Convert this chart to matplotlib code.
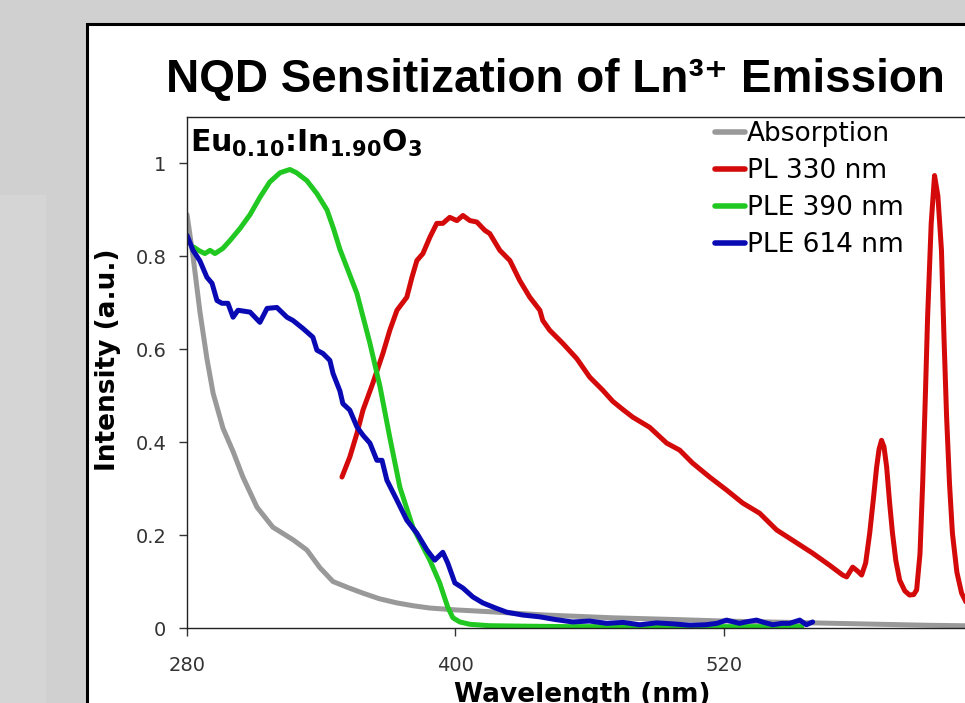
import matplotlib
matplotlib.use('Agg')
import matplotlib.pyplot as plt
from matplotlib.patches import Rectangle

# absorption spectrum (gray)
abs_nm = [280, 282.7, 285.8, 288.9, 291.7, 296.1, 300.6, 305, 311.3, 318.4,
          327.4, 333.6, 339.4, 345.3, 352, 358.7, 366, 373.9, 381, 388.6,
          400, 415.4, 440, 470, 500, 520, 550, 580, 610, 640]
abs_int = [0.89, 0.80, 0.68, 0.58, 0.505, 0.43, 0.38, 0.325, 0.26, 0.217,
           0.19, 0.168, 0.13, 0.10, 0.087, 0.075, 0.063, 0.054, 0.048, 0.043,
           0.039, 0.035, 0.028, 0.022, 0.018, 0.015, 0.012, 0.009, 0.006, 0.004]

# PL, excitation at 330 nm (red)
pl_nm = [349.3, 352.8, 356, 358.7, 363.1, 367.6, 370.7, 373.9, 378.3, 380.6,
         382.8, 385.5, 388.6, 391.7, 394.4, 397.5, 400.7, 403.4, 406.5, 409.6,
         413.2, 415.4, 419.9, 424.4, 428.8, 433.3, 437.8, 439.1, 442.2, 448,
         454.3, 460.1, 465.9, 470.4, 475, 479.3, 486.9, 494.5, 500.3, 506.1,
         513.7, 521.3, 528.5, 536.1, 543.7, 550.8, 559.8, 567.4, 573.2, 575,
         577.7, 580, 581.7, 583.5, 585.3, 587, 588.4, 589.5, 590.6, 591.7,
         592.9, 594.2, 595.5, 597, 598.7, 601, 603.1, 605, 606.3, 607.8,
         609, 610.2, 611.2, 612.8, 614.3, 615.8, 617.4, 618.5, 619.7, 621,
         622.3, 624.3, 626.4, 629, 632, 640]
pl_int = [0.325, 0.368, 0.419, 0.469, 0.527, 0.591, 0.641, 0.684, 0.712, 0.755,
          0.791, 0.806, 0.841, 0.871, 0.871, 0.884, 0.877, 0.888, 0.877, 0.874,
          0.856, 0.849, 0.813, 0.791, 0.748, 0.712, 0.684, 0.662, 0.641, 0.613,
          0.58, 0.54, 0.512, 0.488, 0.47, 0.454, 0.432, 0.398, 0.383, 0.355,
          0.325, 0.297, 0.269, 0.247, 0.211, 0.189, 0.161, 0.135, 0.114, 0.11,
          0.131, 0.122, 0.114, 0.14, 0.204, 0.28, 0.346, 0.385, 0.404, 0.39,
          0.346, 0.27, 0.204, 0.145, 0.103, 0.08, 0.071, 0.072, 0.082, 0.16,
          0.312, 0.50, 0.669, 0.87, 0.974, 0.93, 0.813, 0.63, 0.454, 0.31,
          0.204, 0.12, 0.075, 0.05, 0.04, 0.03]

# PLE monitored at 390 nm (green)
ple390_nm = [283, 285.5, 288, 290.3, 292.5, 296, 299.2, 303.7, 308.2, 312.6,
             317, 321.6, 326, 329, 333.6, 338.1, 342.6, 345.5, 348.4, 352,
             356, 361.8, 366.3, 370.7, 375.2, 381, 388.6, 393, 396.6, 398.9,
             402, 406.5, 415, 430, 450, 470, 490, 510, 530, 545, 555]
ple390_int = [0.82, 0.812, 0.806, 0.813, 0.806, 0.817, 0.834, 0.86, 0.89, 0.927,
              0.96, 0.98, 0.987, 0.98, 0.963, 0.935, 0.90, 0.86, 0.815, 0.77,
              0.72, 0.613, 0.52, 0.41, 0.303, 0.217, 0.146, 0.097, 0.045, 0.022,
              0.013, 0.008, 0.005, 0.004, 0.003, 0.003, 0.003, 0.003, 0.003, 0.003, 0.003]

# PLE monitored at 614 nm (blue)
ple614_nm = [280, 282.7, 285.8, 288.9, 291.2, 293.4, 295.6, 298.3, 300.6, 302.8,
             305.5, 308.2, 312.6, 315.8, 320.2, 324.7, 327.4, 331.8, 336.3, 338.1,
             340.8, 343.9, 345.3, 348.4, 349.7, 352.8, 356, 358.7, 361.8, 364.9,
             367.2, 369.4, 373.9, 378.3, 382.8, 387.3, 390.8, 394.4, 396.6, 399.8,
             403.4, 407.8, 412.3, 418, 423, 430, 437.8, 445, 452.5, 460,
             467.7, 475, 482.5, 490, 497, 505, 512, 517, 521.3, 527,
             531, 534.7, 538, 542, 546, 549.5, 554, 557, 559.8]
ple614_int = [0.845, 0.813, 0.79, 0.755, 0.742, 0.705, 0.699, 0.699, 0.669, 0.684,
              0.682, 0.68, 0.658, 0.688, 0.69, 0.669, 0.662, 0.645, 0.626, 0.598,
              0.591, 0.576, 0.548, 0.51, 0.483, 0.469, 0.433, 0.415, 0.398, 0.361,
              0.361, 0.318, 0.275, 0.232, 0.204, 0.168, 0.146, 0.163, 0.14, 0.097,
              0.086, 0.067, 0.054, 0.043, 0.034, 0.028, 0.024, 0.018, 0.013, 0.015,
              0.01, 0.012, 0.007, 0.011, 0.009, 0.006, 0.007, 0.01, 0.017, 0.01,
              0.014, 0.017, 0.012, 0.007, 0.01, 0.01, 0.017, 0.007, 0.013]

x_ticks = [280, 400, 520]
y_ticks = [0, 0.2, 0.4, 0.6, 0.8, 1]
y_ticklabels = ['0', '0.2', '0.4', '0.6', '0.8', '1']

plt.rcParams['mathtext.fontset'] = 'custom'
plt.rcParams['mathtext.bf'] = 'DejaVu Sans:bold'

W, H = 965, 703


def fx(px):
    return px / W


def fy(py):
    return 1 - py / H


fig = plt.figure(figsize=(W / 100, H / 100), dpi=100, facecolor='#d0d0d0')

# faintly lighter strip on the far left of the slide background
fig.patches.append(Rectangle((0, 0), fx(46), fy(195), transform=fig.transFigure,
                             facecolor='#d5d5d5', edgecolor='none', zorder=-6))
# white slide panel, runs off the right and bottom edges
fig.patches.append(Rectangle((fx(87), -0.2), 1.3, fy(24) + 0.2, transform=fig.transFigure,
                             facecolor='white', edgecolor='black', lw=2.2, zorder=-5))

ax = fig.add_axes([fx(187), fy(628), (992 - 187) / W, (628 - 117) / H])
ax.set_zorder(2)
ax.set_facecolor('white')

kw = dict(lw=3.6, solid_capstyle='round', solid_joinstyle='round')
ax.plot(abs_nm, abs_int, color='#999999', label='Absorption', **kw)
ax.plot(pl_nm, pl_int, color='#d40a0a', label='PL 330 nm', **kw)
ax.plot(ple390_nm, ple390_int, color='#22c822', label='PLE 390 nm', **kw)
ax.plot(ple614_nm, ple614_int, color='#0a0ab4', label='PLE 614 nm', **kw)

ax.set_xlim(280, 640)
ax.set_ylim(0, 1.1)
ax.set_xticks(x_ticks)
ax.set_yticks(y_ticks)
ax.set_yticklabels(y_ticklabels)
ax.tick_params(axis='both', direction='out', length=6, width=1, colors='#333333', labelsize=14)
ax.tick_params(axis='x', pad=14)
ax.tick_params(axis='y', pad=9)
for s in ax.spines.values():
    s.set_color('#222222')
    s.set_linewidth(1)

leg = ax.legend(loc='upper left', bbox_to_anchor=(fx(715), fy(121)), bbox_transform=fig.transFigure,
                frameon=False, fontsize=19, handlelength=1.15, handletextpad=0.05,
                labelspacing=0.42, borderpad=0, borderaxespad=0)
for line in leg.get_lines():
    line.set_linewidth(4)

fig.text(fx(555), fy(92), 'NQD Sensitization of Ln³⁺ Emission',
         ha='center', va='baseline', fontsize=33, fontweight='bold',
         family=['Liberation Sans', 'DejaVu Sans'])
fig.text(fx(190), fy(152), r'$\mathbf{Eu_{0.10}}$:$\mathbf{In_{1.90}O_3}$',
         ha='left', va='baseline', fontsize=21.5, fontweight='bold', zorder=5)
fig.text(fx(108), fy(360), 'Intensity (a.u.)', rotation=90, ha='center', va='center',
         fontsize=19, fontweight='bold')
fig.text(fx(582), fy(695), 'Wavelength (nm)', ha='center', va='center',
         fontsize=19, fontweight='bold')

fig.savefig('out.png', dpi=100, facecolor=fig.get_facecolor())
